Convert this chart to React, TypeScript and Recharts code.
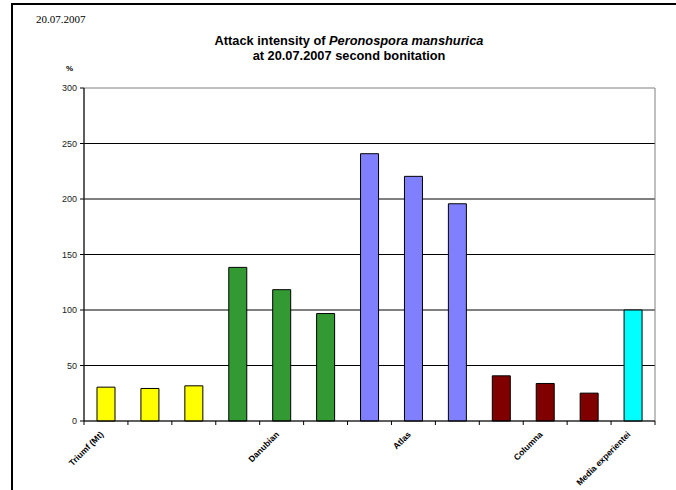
import { BarChart, Bar, XAxis, YAxis, CartesianGrid, Cell, ReferenceArea } from "recharts";

const categories = [
  "Triumf (Mt)", "", "", "",
  "Danubian", "", "",
  "Atlas", "", "",
  "Columna", "",
  "Media experientei",
];
const attack = [30.5, 29.3, 31.7, 138.4, 118.3, 96.8, 240.8, 220.4, 195.7, 40.7, 33.8, 25.1, 100];
const barColors = [
  "#ffff00", "#ffff00", "#ffff00",
  "#339933", "#339933", "#339933",
  "#8080ff", "#8080ff", "#8080ff",
  "#800000", "#800000", "#800000",
  "#00ffff",
];
const yTicks = [0, 50, 100, 150, 200, 250, 300];

const data = attack.map((v, i) => ({ idx: i, value: v }));

const W = 676;
const H = 490;
const M = { top: 88, right: 21, bottom: 9, left: 44 };
const Y_AXIS_W = 40;
const X_AXIS_H = 60;
const plotW = W - M.left - Y_AXIS_W - M.right;
const half = plotW / categories.length / 2;

// Excel-style category axis: tick marks between bars, slanted labels
const XTick = (props: any) => {
  const { x, y, payload, index } = props;
  const top = y - 4;
  const label = categories[payload.value] ?? "";
  const lx = x - 2;
  const ly = top + 14;
  return (
    <g>
      <line x1={x - half} x2={x - half} y1={top} y2={top + 4} stroke="#000" />
      {index === categories.length - 1 && (
        <line x1={x + half} x2={x + half} y1={top} y2={top + 4} stroke="#000" />
      )}
      {label && (
        <text
          x={lx}
          y={ly}
          textAnchor="end"
          transform={`rotate(-45, ${lx}, ${ly})`}
          fontFamily="Arial, 'Liberation Sans', sans-serif"
          fontSize={8.6}
          fontWeight="bold"
          fill="#000"
        >
          {label}
        </text>
      )}
    </g>
  );
};

export default function App() {
  return (
    <div style={{ position: "absolute", left: 0, top: 0, width: W, height: H, background: "#fff" }}>
      {/* frame */}
      <div style={{ position: "absolute", left: 11, top: 3, width: W - 11, height: 2, background: "#000" }} />
      <div style={{ position: "absolute", left: 11, top: 3, width: 2, height: H - 3, background: "#000" }} />

      <div style={{ position: "absolute", left: 36, top: 13, fontFamily: "'Times New Roman', 'Liberation Serif', serif", fontSize: 11 }}>
        20.07.2007
      </div>
      <div
        style={{
          position: "absolute",
          left: 0,
          width: 698,
          top: 33,
          textAlign: "center",
          fontFamily: "Arial, 'Liberation Sans', sans-serif",
          fontSize: 12.8,
          fontWeight: "bold",
          lineHeight: "15px",
        }}
      >
        Attack intensity of <i>Peronospora manshurica</i>
        <br />
        at 20.07.2007 second bonitation
      </div>
      <div style={{ position: "absolute", left: 66, top: 64, fontFamily: "Arial, 'Liberation Sans', sans-serif", fontSize: 8, fontWeight: "bold" }}>
        %
      </div>

      <div style={{ position: "absolute", left: 0, top: 0 }}>
        <BarChart width={W} height={H} data={data} margin={M}>
          {/* plot-area outline (gray top/right edges) */}
          <ReferenceArea y1={0} y2={300} fill="none" stroke="#808080" strokeWidth={1} />
          <CartesianGrid vertical={false} stroke="#000" horizontalValues={[50, 100, 150, 200, 250]} />
          <XAxis
            dataKey="idx"
            height={X_AXIS_H}
            interval={0}
            tickLine={false}
            tickSize={4}
            tickMargin={0}
            axisLine={{ stroke: "#000" }}
            tick={<XTick />}
          />
          <YAxis
            width={Y_AXIS_W}
            domain={[0, 300]}
            ticks={yTicks}
            interval={0}
            tickSize={4}
            tickMargin={3}
            axisLine={{ stroke: "#000" }}
            tickLine={{ stroke: "#000" }}
            tick={{ fontSize: 9, fill: "#222", fontFamily: "Arial, 'Liberation Sans', sans-serif" }}
          />
          <Bar dataKey="value" barSize={18} stroke="#000" strokeWidth={1} isAnimationActive={false}>
            {data.map((d) => (
              <Cell key={d.idx} fill={barColors[d.idx]} />
            ))}
          </Bar>
        </BarChart>
      </div>
    </div>
  );
}
